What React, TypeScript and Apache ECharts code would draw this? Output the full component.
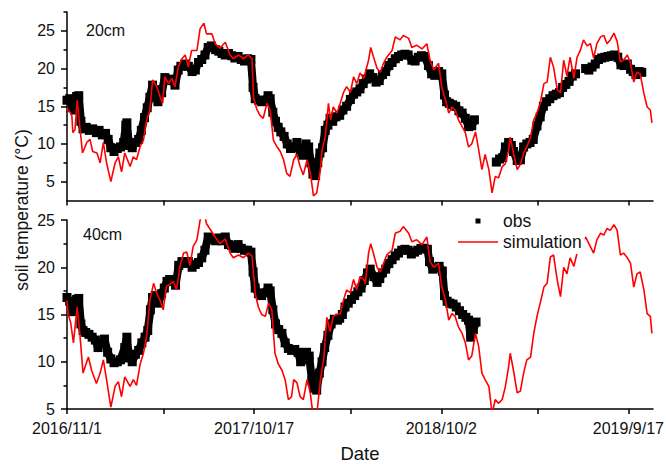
import React, { useEffect, useRef } from 'react';
import * as echarts from 'echarts';

const START_UTC = Date.UTC(2016, 10, 1);
const X_MAX_DAY = 1096;
const xTickDays = [0, 181, 350, 531, 700, 881, 1050];
const xLabelDays = [0, 350, 700, 1050];
const yTicksTop = [5, 10, 15, 20, 25];
const yMinorTop = [7.5, 12.5, 17.5, 22.5, 27.5];
const yTicksBottom = [5, 10, 15, 20, 25];
const yMinorBottom = [7.5, 12.5, 17.5, 22.5];

// [days since 2016/11/1, temperature]
const obs20: [number, number | null][] = [
  [0,15.8],[5,16.0],[10,14.8],[14,14.5],[18,16.3],[22,16.4],[26,13.0],[30,12.0],[36,12.2],[42,11.8],[48,12.0],[55,11.5],[60,11.8],[66,11.2],[72,11.4],[77,10.6],[82,9.5],[88,9.0],[94,9.4],[100,9.6],[106,10.2],[110,12.5],[112,12.8],[116,9.8],[122,9.5],[128,10.2],[134,10.6],[139,11.8],[145,13.5],[150,14.8],[155,16.2],[160,17.8],[165,17.2],[170,15.6],[177,16.8],[183,18.8],[190,18.6],[196,18.4],[202,17.8],[208,19.8],[213,20.3],[220,20.6],[227,20.3],[234,19.6],[240,19.8],[246,20.8],[252,21.2],[258,21.8],[264,22.8],[270,23.0],[278,22.5],[284,22.3],[290,22.0],[296,21.8],[302,22.0],[308,21.7],[314,21.4],[320,21.6],[326,21.2],[332,21.0],[338,21.3],[344,21.2],[348,17.5],[352,16.0],[358,15.8],[364,15.6],[370,15.8],[376,16.4],[380,16.0],[385,14.2],[390,13.0],[395,12.2],[400,11.6],[406,11.0],[412,10.0],[418,9.4],[424,9.5],[430,10.2],[436,9.0],[441,8.5],[447,10.0],[452,9.6],[456,7.5],[460,6.0],[465,5.8],[469,7.5],[473,8.8],[478,9.5],[483,11.8],[488,12.5],[492,13.4],[497,13.0],[503,13.6],[510,13.8],[516,14.5],[523,15.0],[530,15.9],[536,16.6],[542,16.9],[548,17.3],[554,18.0],[560,18.6],[566,19.3],[572,18.8],[578,18.2],[584,18.4],[590,19.2],[596,19.6],[602,20.4],[608,20.8],[614,21.3],[620,21.6],[626,21.8],[632,21.9],[638,21.8],[645,21.1],[651,21.0],[657,21.5],[663,21.7],[669,21.6],[676,20.4],[682,19.3],[688,19.1],[695,19.6],[701,19.3],[706,16.5],[710,15.6],[715,15.4],[721,15.2],[727,15.0],[733,14.4],[739,14.1],[745,13.4],[751,12.3],[757,12.4],[762,13.2],[780,null],[803,7.6],[809,8.0],[815,8.2],[820,9.6],[826,10.2],[831,9.8],[835,9.0],[842,7.8],[848,7.9],[854,9.6],[860,10.0],[866,10.2],[872,10.6],[879,12.4],[885,13.6],[891,15.0],[897,15.6],[903,16.0],[909,16.4],[915,16.6],[921,16.8],[927,17.5],[933,17.9],[939,18.3],[945,19.0],[951,19.3],[960,null],[970,20.0],[976,19.8],[982,20.2],[988,20.6],[994,21.2],[1000,21.4],[1006,21.5],[1012,21.6],[1018,21.7],[1024,21.8],[1030,21.5],[1036,20.5],[1042,20.4],[1048,20.6],[1054,19.9],[1059,19.6],[1064,19.2],[1070,19.6],[1075,19.5]
];

const sim20: [number, number][] = [
  [0,14.7],[6,14.2],[9,13.8],[11,11.5],[15,11.9],[19,15.8],[24,12.3],[29,8.8],[37,10.2],[43,10.6],[48,9.0],[56,8.8],[62,7.5],[68,10.2],[74,7.5],[82,5.0],[90,7.5],[96,8.3],[102,6.3],[108,8.8],[118,7.0],[124,8.3],[130,7.9],[137,9.7],[143,10.5],[149,13.2],[155,14.5],[160,18.5],[168,17.6],[174,16.3],[179,15.4],[183,18.9],[190,18.0],[196,18.7],[202,17.6],[208,20.2],[215,21.3],[221,21.8],[227,20.2],[233,22.4],[243,22.4],[249,25.3],[256,26.0],[261,24.6],[271,24.6],[277,23.3],[286,22.7],[296,23.5],[305,21.8],[311,21.3],[321,21.8],[330,21.3],[339,21.8],[346,21.3],[349,16.1],[355,14.6],[361,13.8],[367,13.4],[374,15.4],[380,14.5],[386,10.5],[392,9.7],[399,9.0],[405,7.9],[411,6.1],[417,5.7],[424,7.9],[430,8.6],[436,7.0],[442,5.9],[449,7.9],[455,6.2],[461,3.1],[467,3.5],[474,6.6],[477,9.2],[483,10.9],[489,15.4],[493,13.2],[498,14.9],[505,14.1],[511,15.4],[517,16.8],[523,17.6],[530,16.8],[536,18.9],[542,18.0],[548,19.4],[555,18.7],[564,21.1],[568,22.8],[573,21.6],[580,20.0],[586,19.5],[592,20.7],[598,21.5],[608,22.4],[614,24.2],[623,23.8],[629,24.4],[639,24.0],[645,22.8],[654,23.1],[664,22.6],[673,23.3],[679,21.1],[686,19.8],[695,20.7],[701,17.5],[708,15.8],[714,14.1],[720,14.9],[726,14.5],[732,13.2],[739,12.3],[745,11.5],[751,9.6],[757,10.0],[764,11.6],[770,9.2],[776,6.6],[782,8.6],[789,6.6],[795,3.5],[801,5.7],[807,5.5],[814,7.0],[820,7.4],[826,9.2],[829,10.9],[835,8.8],[842,6.6],[848,7.3],[854,8.8],[860,9.6],[867,10.9],[873,13.2],[879,14.1],[885,15.4],[892,18.0],[898,18.2],[904,21.5],[910,20.2],[917,17.2],[923,16.8],[929,21.1],[935,19.0],[941,21.5],[948,18.7],[954,21.5],[960,22.4],[966,23.8],[973,23.0],[979,23.3],[985,21.4],[991,23.3],[998,24.2],[1004,24.4],[1010,23.3],[1016,23.8],[1023,24.7],[1029,23.6],[1035,20.9],[1041,21.1],[1048,21.8],[1054,20.7],[1060,18.2],[1066,19.5],[1072,19.3],[1079,16.7],[1085,14.9],[1091,14.5],[1094,12.8]
];

const obs40: [number, number][] = [
  [0,16.8],[5,16.4],[10,15.3],[14,15.4],[18,16.6],[22,16.7],[26,14.0],[30,13.3],[35,13.1],[41,12.9],[47,12.6],[53,12.3],[58,11.5],[64,12.0],[70,12.4],[76,11.0],[82,10.3],[88,9.9],[94,10.0],[100,10.2],[108,11.5],[112,12.6],[116,10.4],[122,10.0],[128,10.8],[134,11.2],[140,12.0],[146,12.6],[151,13.3],[156,15.5],[160,16.8],[165,17.0],[171,16.2],[177,17.2],[182,17.8],[187,18.5],[192,18.7],[197,18.7],[203,18.1],[209,20.2],[215,20.6],[221,20.4],[227,20.6],[234,20.0],[240,20.3],[246,20.5],[252,21.0],[258,21.8],[264,23.2],[270,23.0],[278,22.8],[284,23.1],[290,22.8],[296,23.2],[302,22.4],[308,22.3],[314,22.0],[320,22.4],[326,22.0],[332,21.8],[338,21.8],[344,21.6],[348,19.5],[352,17.8],[358,17.2],[364,17.0],[370,17.3],[376,17.8],[380,17.5],[385,15.5],[390,14.0],[396,13.4],[402,13.0],[408,12.0],[414,11.4],[420,11.2],[426,11.3],[432,11.0],[437,10.0],[443,10.2],[448,11.0],[453,10.6],[458,8.0],[462,7.2],[467,7.0],[472,8.8],[477,10.0],[482,11.5],[488,12.8],[494,14.0],[500,14.5],[506,14.4],[510,14.6],[515,15.0],[520,15.8],[526,16.2],[532,16.6],[538,17.0],[544,17.4],[550,17.8],[556,18.6],[562,19.4],[567,19.8],[574,19.0],[580,18.4],[585,18.8],[590,19.4],[596,19.8],[602,20.4],[608,20.8],[614,21.2],[620,21.5],[626,21.8],[632,21.9],[638,21.8],[644,21.4],[650,21.6],[656,21.8],[662,22.0],[668,22.0],[674,21.9],[678,20.6],[684,19.8],[690,19.9],[696,20.1],[702,19.6],[706,17.0],[711,16.4],[716,16.2],[722,16.1],[728,15.8],[734,15.4],[740,15.0],[746,14.7],[751,14.4],[755,12.6],[760,13.4],[765,14.2]
];

const sim40: [number, number][] = [
  [0,16.5],[2,15.1],[7,14.1],[12,12.0],[19,15.8],[24,13.0],[30,8.8],[40,10.5],[46,9.1],[55,7.7],[62,8.8],[68,10.2],[74,8.1],[82,5.2],[90,7.4],[96,7.9],[102,6.3],[108,8.4],[118,7.4],[124,8.1],[130,7.5],[137,9.8],[143,10.9],[149,12.7],[155,16.5],[162,18.3],[168,17.2],[174,16.5],[180,15.5],[186,18.0],[193,18.2],[199,18.5],[205,17.6],[211,20.0],[218,21.5],[224,21.6],[230,20.2],[236,22.2],[243,22.9],[249,25.0],[255,26.2],[261,24.6],[268,24.0],[277,23.2],[286,22.5],[296,23.0],[305,21.5],[311,21.0],[321,21.3],[330,21.0],[339,21.5],[346,21.2],[352,17.2],[358,15.8],[364,15.0],[371,14.8],[377,16.2],[383,15.5],[389,10.9],[395,9.8],[402,9.1],[408,8.1],[414,6.0],[420,6.3],[424,8.1],[430,7.8],[436,6.3],[442,6.0],[449,8.1],[455,6.7],[461,4.0],[467,4.3],[474,8.1],[480,10.2],[486,14.7],[492,13.2],[498,14.8],[505,15.0],[511,15.1],[517,16.5],[523,17.6],[530,17.3],[536,18.7],[542,17.6],[548,19.0],[555,18.7],[558,18.3],[564,21.5],[568,22.5],[573,21.5],[580,20.0],[586,19.5],[592,20.4],[598,21.3],[608,21.8],[614,23.6],[623,23.8],[629,24.3],[639,23.6],[645,22.7],[654,22.9],[664,22.4],[673,23.2],[679,20.6],[686,20.0],[695,20.4],[701,17.9],[708,16.5],[714,14.4],[720,15.1],[726,14.8],[732,13.7],[739,13.0],[745,12.0],[751,10.2],[757,10.6],[764,13.0],[770,11.6],[776,8.8],[782,8.1],[789,7.4],[792,6.0],[795,4.5],[801,6.0],[807,5.6],[814,6.0],[820,7.4],[826,9.5],[829,10.9],[835,9.1],[842,6.7],[848,6.9],[854,8.8],[860,10.2],[867,10.5],[873,13.0],[879,14.8],[885,16.2],[892,17.9],[898,18.3],[904,21.1],[910,21.3],[917,18.6],[923,16.9],[929,20.0],[935,19.3],[941,21.0],[948,20.1],[954,21.5],[960,22.0],[966,22.8],[970,23.2],[976,22.5],[985,21.5],[991,22.9],[998,23.6],[1004,23.4],[1010,24.1],[1016,23.9],[1023,24.5],[1029,23.9],[1035,21.3],[1041,21.5],[1048,21.0],[1054,20.4],[1060,17.9],[1066,19.3],[1072,19.5],[1079,17.6],[1085,15.1],[1091,14.8],[1094,13.0]
];

const FONT = 'Arial, "Liberation Sans", Helvetica, sans-serif';
const INK = '#111';
// legend icons: a centred square inside a 40x5 box, and a thin line
const OBS_ICON = 'path://M0,2.5L0.01,2.5L0.01,2.51L0,2.51Z M17.5,0L22.5,0L22.5,5L17.5,5Z M39.99,2.5L40,2.5L40,2.51L39.99,2.51Z';
const SIM_ICON = 'path://M0,0L40,0L40,1.5L0,1.5Z';

function dayToLabel(v: number): string {
  const d = new Date(START_UTC + Math.round(v) * 86400000);
  return `${d.getUTCFullYear()}/${d.getUTCMonth() + 1}/${d.getUTCDate()}`;
}

function xAxisCfg(gridIndex: number, withLabels: boolean): any {
  return {
    type: 'value',
    gridIndex,
    min: 0,
    max: X_MAX_DAY,
    axisLine: { show: true, onZero: false, lineStyle: { color: '#000', width: 1.5 } },
    axisTick: { show: true, customValues: xTickDays, length: 5, lineStyle: { color: '#000', width: 1.5 } },
    axisLabel: withLabels
      ? { show: true, customValues: xLabelDays, formatter: (v: number) => dayToLabel(v), fontSize: 16, color: INK, fontFamily: FONT, margin: 11 }
      : { show: false },
    splitLine: { show: false },
    name: withLabels ? 'Date' : '',
    nameLocation: 'middle',
    nameGap: 35,
    nameTextStyle: { fontSize: 18.5, color: INK, fontFamily: FONT },
  };
}

function yMainCfg(gridIndex: number, min: number, max: number, ticks: number[]): any {
  return {
    type: 'value',
    gridIndex,
    min,
    max,
    position: 'left',
    axisLine: { show: true, onZero: false, lineStyle: { color: '#000', width: 1.5 } },
    axisTick: { show: true, customValues: ticks, length: 6, lineStyle: { color: '#000', width: 1.5 } },
    axisLabel: { show: true, customValues: ticks, fontSize: 16, color: INK, fontFamily: FONT, margin: 12 },
    splitLine: { show: false },
  };
}

function yMinorCfg(gridIndex: number, min: number, max: number, ticks: number[]): any {
  return {
    type: 'value',
    gridIndex,
    min,
    max,
    position: 'left',
    axisLine: { show: false },
    axisTick: { show: true, inside: false, customValues: ticks, length: 3.5, lineStyle: { color: '#000', width: 1.5 } },
    axisLabel: { show: false },
    splitLine: { show: false },
  };
}

export default function App() {
  const ref = useRef<HTMLDivElement>(null);

  useEffect(() => {
    document.body.style.margin = '0';
    if (!ref.current) return;
    const chart = echarts.init(ref.current, undefined, { renderer: 'svg' });

    const obsStyle = {
      type: 'line' as const,
      name: 'obs',
      symbol: 'rect',
      symbolSize: 9,
      showSymbol: true,
      connectNulls: false,
      lineStyle: { color: '#000', width: 8 },
      itemStyle: { color: '#000' },
      z: 2,
    };
    const simStyle = {
      type: 'line' as const,
      name: 'simulation',
      symbol: 'none',
      showSymbol: false,
      lineStyle: { color: '#ff0000', width: 1.6 },
      itemStyle: { color: '#ff0000' },
      z: 3,
    };

    const option: any = {
      animation: false,
      backgroundColor: '#fff',
      grid: [
        { left: 67, right: 13, top: 12, height: 188.5, containLabel: false, outerBoundsMode: 'none' },
        { left: 67, right: 13, top: 220, height: 189, containLabel: false, outerBoundsMode: 'none' },
      ],
      xAxis: [xAxisCfg(0, false), xAxisCfg(1, true)],
      yAxis: [
        yMainCfg(0, 2.5, 27.5, yTicksTop),
        yMinorCfg(0, 2.5, 27.5, yMinorTop),
        yMainCfg(1, 5, 25, yTicksBottom),
        yMinorCfg(1, 5, 25, yMinorBottom),
      ],
      legend: [
        {
          data: [{ name: 'obs', icon: OBS_ICON }],
          left: 458,
          top: 212,
          padding: 0,
          itemWidth: 40,
          itemHeight: 5,
          selectedMode: false,
          textStyle: { fontSize: 17.5, color: INK, fontFamily: FONT },
        },
        {
          data: [{ name: 'simulation', icon: SIM_ICON }],
          left: 455,
          top: 230,
          padding: 3,
          itemWidth: 40,
          itemHeight: 14,
          backgroundColor: '#fff',
          selectedMode: false,
          textStyle: { fontSize: 17.5, color: INK, fontFamily: FONT },
        },
      ],
      graphic: [
        {
          type: 'text',
          x: 86,
          y: 30.5,
          style: { text: '20cm', fontSize: 16, fontFamily: FONT, fill: INK, textAlign: 'left', textVerticalAlign: 'middle', align: 'left', verticalAlign: 'middle' },
        },
        {
          type: 'text',
          x: 83,
          y: 234,
          style: { text: '40cm', fontSize: 16, fontFamily: FONT, fill: INK, textAlign: 'left', textVerticalAlign: 'middle', align: 'left', verticalAlign: 'middle' },
        },
        {
          type: 'text',
          x: 22,
          y: 210,
          rotation: Math.PI / 2,
          style: { text: 'soil temperature (°C)', fontSize: 17.5, fontFamily: FONT, fill: INK, textAlign: 'center', textVerticalAlign: 'middle', align: 'center', verticalAlign: 'middle' },
        },
      ],
      series: [
        { ...obsStyle, xAxisIndex: 0, yAxisIndex: 0, data: obs20 },
        { ...simStyle, xAxisIndex: 0, yAxisIndex: 0, data: sim20 },
        { ...obsStyle, xAxisIndex: 1, yAxisIndex: 2, data: obs40 },
        { ...simStyle, xAxisIndex: 1, yAxisIndex: 2, data: sim40 },
      ],
    };

    chart.setOption(option);
    return () => {
      chart.dispose();
    };
  }, []);

  return <div ref={ref} style={{ width: 666, height: 464 }} />;
}
